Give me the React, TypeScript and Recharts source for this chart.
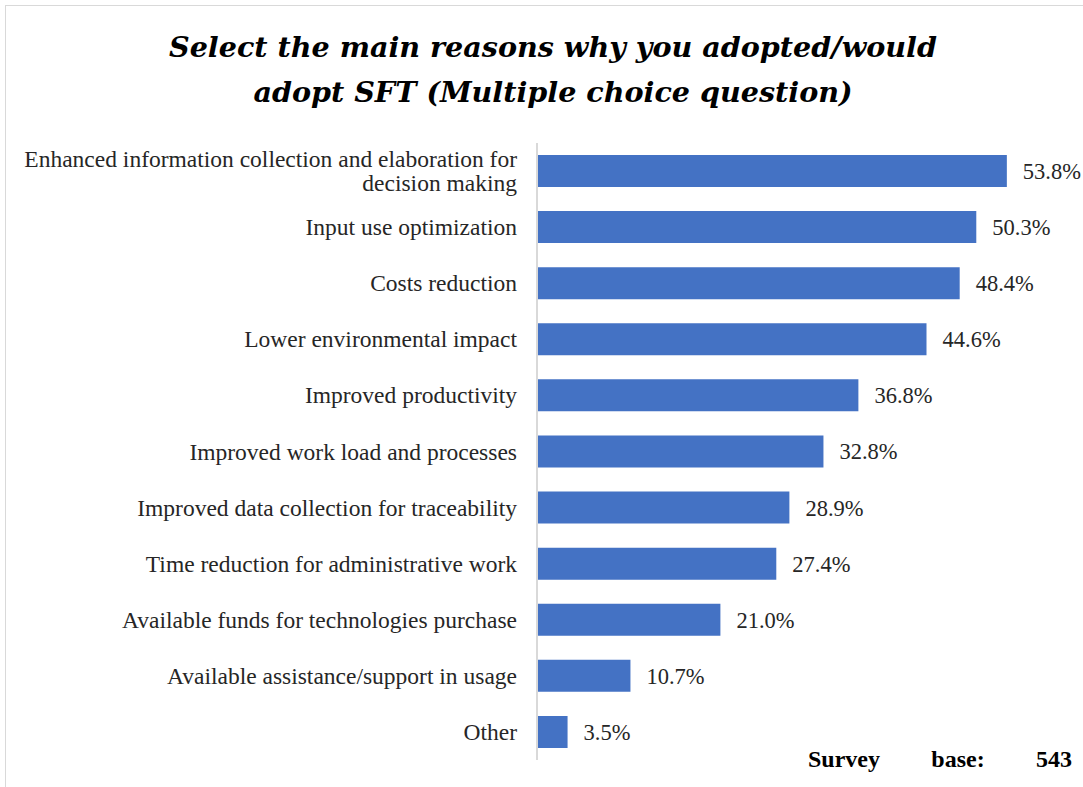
import { BarChart, Bar, XAxis, YAxis, LabelList } from "recharts";

const reasons = [
  "Enhanced information collection and elaboration for decision making",
  "Input use optimization",
  "Costs reduction",
  "Lower environmental impact",
  "Improved productivity",
  "Improved work load and processes",
  "Improved data collection for traceability",
  "Time reduction for administrative work",
  "Available funds for technologies purchase",
  "Available assistance/support in usage",
  "Other",
];

const shares = [53.8, 50.3, 48.4, 44.6, 36.8, 32.8, 28.9, 27.4, 21.0, 10.7, 3.5];

const data = reasons.map((reason, i) => ({ reason, share: shares[i] }));

const labelFont = "'Liberation Serif', 'Times New Roman', serif";
const labelSize = 23.5;

let ctx: CanvasRenderingContext2D | null = null;
function wrap(text: string, maxWidth: number) {
  if (!ctx) ctx = document.createElement("canvas").getContext("2d");
  if (!ctx) return [text];
  ctx.font = `${labelSize}px ${labelFont}`;
  const words = text.split(" ");
  const lines: string[] = [];
  let cur = "";
  for (const w of words) {
    const next = cur ? cur + " " + w : w;
    if (cur && ctx.measureText(next).width > maxWidth) {
      lines.push(cur);
      cur = w;
    } else cur = next;
  }
  if (cur) lines.push(cur);
  return lines;
}

function ReasonTick(props: any) {
  const { x, y, payload } = props;
  const lines = wrap(payload.value, 505);
  const lh = 24;
  const start = y - ((lines.length - 1) * lh) / 2;
  return (
    <text
      x={x}
      y={start}
      textAnchor="end"
      dominantBaseline="central"
      fontFamily={labelFont}
      fontSize={labelSize}
      fill="#262626"
    >
      {lines.map((l, i) => (
        <tspan key={i} x={x} dy={i === 0 ? 0 : lh}>
          {l}
        </tspan>
      ))}
    </text>
  );
}

export default function App() {
  return (
    <div
      style={{
        position: "absolute",
        left: 0,
        top: 0,
        width: 1083,
        height: 787,
        overflow: "hidden",
        background: "#fff",
      }}
    >
      <div
        style={{
          position: "absolute",
          left: 5,
          top: 5,
          width: 1200,
          height: 900,
          border: "1px solid #d9d9d9",
        }}
      />
      <div
        style={{
          position: "absolute",
          left: 0,
          top: 25,
          width: 1106,
          textAlign: "center",
          fontFamily: "'DejaVu Serif', serif",
          fontWeight: 700,
          fontStyle: "italic",
          fontSize: 28.6,
          lineHeight: "45px",
          color: "#000",
        }}
      >
        Select the main reasons why you adopted/would
        <br />
        adopt SFT (Multiple choice question)
      </div>
      <div style={{ position: "absolute", left: 0, top: 0 }}>
        <BarChart
          width={1083}
          height={787}
          data={data}
          layout="vertical"
          margin={{ top: 143, right: 22, bottom: 27, left: 0 }}
        >
          <XAxis type="number" domain={[0, 60]} hide />
          <YAxis
            type="category"
            dataKey="reason"
            width={537}
            axisLine={{ stroke: "#d9d9d9", strokeWidth: 2 }}
            tickLine={false}
            tickMargin={14}
            interval={0}
            tick={<ReasonTick />}
          />
          <Bar dataKey="share" fill="#4472c4" barSize={32} isAnimationActive={false}>
            <LabelList
              dataKey="share"
              position="right"
              offset={16}
              formatter={(v: any) => `${Number(v).toFixed(1)}%`}
              style={{ fontFamily: labelFont, fontSize: 22.5, fill: "#262626" }}
            />
          </Bar>
        </BarChart>
      </div>
      <div
        style={{
          position: "absolute",
          left: 808,
          top: 746,
          width: 264,
          display: "flex",
          justifyContent: "space-between",
          fontFamily: labelFont,
          fontWeight: 700,
          fontSize: 24,
          color: "#000",
        }}
      >
        <span>Survey</span>
        <span>base:</span>
        <span>543</span>
      </div>
    </div>
  );
}
